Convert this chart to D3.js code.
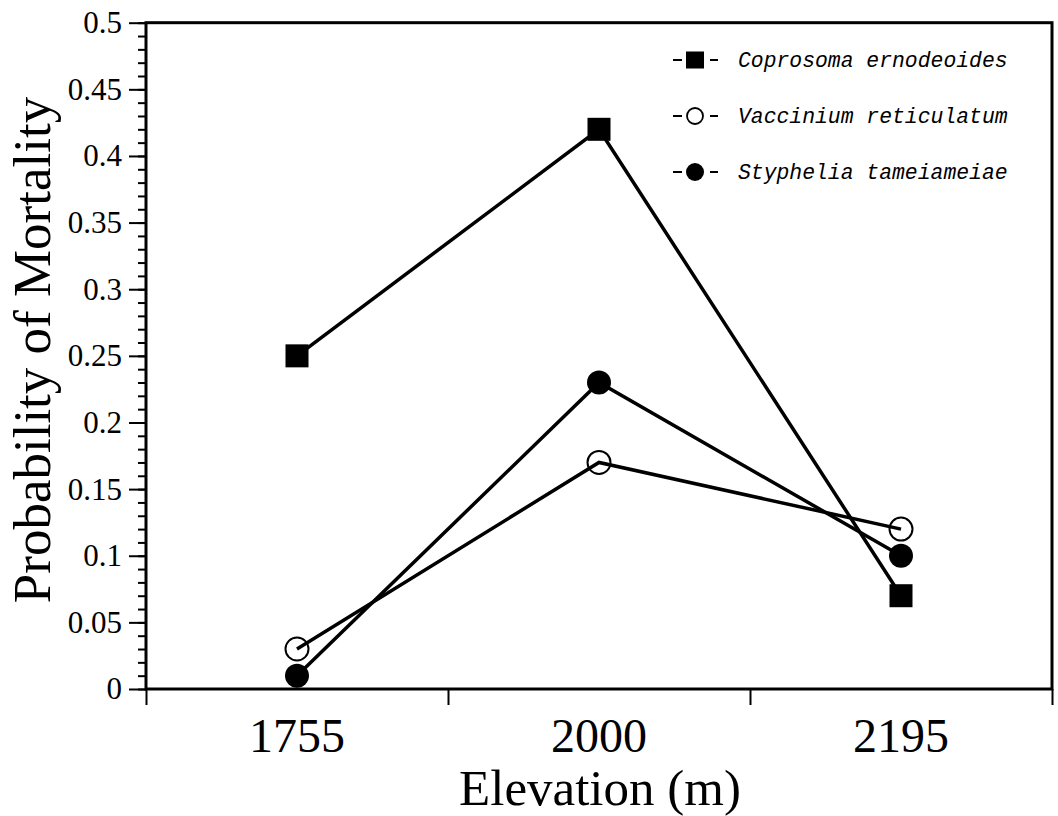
<!DOCTYPE html>
<html>
<head>
<meta charset="utf-8">
<script src="https://cdn.jsdelivr.net/npm/d3@7"></script>
<style>
  html, body { margin: 0; padding: 0; background: #fff; }
  svg { display: block; }
</style>
</head>
<body>
<div id="chart"></div>
<script>
// values
var elevations = ["1755", "2000", "2195"];
var coprosoma = [0.25, 0.42, 0.07];
var vaccinium = [0.03, 0.17, 0.12];
var styphelia = [0.01, 0.23, 0.10];
var yTickValues = [0, 0.05, 0.1, 0.15, 0.2, 0.25, 0.3, 0.35, 0.4, 0.45, 0.5];
var yTickLabels = ["0", "0.05", "0.1", "0.15", "0.2", "0.25", "0.3", "0.35", "0.4", "0.45", "0.5"];
var seriesNames = ["Coprosoma ernodeoides", "Vaccinium reticulatum", "Styphelia tameiameiae"];

// (window.top is reserved, so plot edges get their own names)
var W = 1058, H = 816,
    plotL = 146, plotR = 1052, plotT = 22.7, plotB = 689,
    SERIF = "'Liberation Serif', 'Times New Roman', serif",
    MONO = "'Liberation Mono', 'Courier New', monospace";

var svg = d3.select("#chart").append("svg")
    .attr("width", W)
    .attr("height", H);

var x = d3.scaleBand().domain(elevations).range([plotL, plotR]);
var xEdge = d3.scaleLinear().domain([0, elevations.length]).range([plotL, plotR]);
var y = d3.scaleLinear().domain([0, 0.5]).range([plotB, plotT]);
var cx = function(d, i){ return x(elevations[i]) + x.bandwidth() / 2; };

// frame
svg.append("rect")
    .attr("x", plotL).attr("y", plotT)
    .attr("width", plotR - plotL).attr("height", plotB - plotT)
    .attr("fill", "none").attr("stroke", "#000").attr("stroke-width", 3);

// y axis: minor ticks then major ticks with labels
var minor = d3.range(0, 51).map(function(d){ return d / 100; });
svg.append("g")
    .attr("transform", "translate(" + plotL + ",0)")
    .call(d3.axisLeft(y).tickValues(minor).tickSize(8).tickFormat(""))
    .call(function(g){ g.select(".domain").remove(); })
    .selectAll("line").attr("stroke-width", 2);

var yAxis = svg.append("g")
    .attr("transform", "translate(" + plotL + ",0)")
    .call(d3.axisLeft(y).tickValues(yTickValues).tickSize(17).tickPadding(7)
        .tickFormat(function(d, i){ return yTickLabels[i]; }));
yAxis.select(".domain").remove();
yAxis.selectAll("line").attr("stroke-width", 2);
yAxis.selectAll("text")
    .attr("font-family", SERIF).attr("font-size", 31).attr("fill", "#000");

// x axis: ticks at band edges, labels at band centres
var xTicks = svg.append("g")
    .attr("transform", "translate(0," + plotB + ")")
    .call(d3.axisBottom(xEdge).tickValues(d3.range(0, elevations.length + 1)).tickSize(16).tickFormat(""));
xTicks.select(".domain").remove();
xTicks.selectAll("line").attr("stroke-width", 2);

var xAxis = svg.append("g")
    .attr("transform", "translate(0," + plotB + ")")
    .call(d3.axisBottom(x).tickSize(0));
xAxis.select(".domain").remove();
xAxis.selectAll("text")
    .attr("y", 63).attr("dy", 0)
    .attr("font-family", SERIF).attr("font-size", 48).attr("fill", "#000");

// axis titles
svg.append("text")
    .attr("x", 600).attr("y", 805)
    .attr("text-anchor", "middle")
    .attr("font-family", SERIF).attr("font-size", 51)
    .text("Elevation (m)");

svg.append("text")
    .attr("transform", "translate(50,350) rotate(-90)")
    .attr("text-anchor", "middle")
    .attr("font-family", SERIF).attr("font-size", 53)
    .text("Probability of Mortality");

// lines
var line = d3.line().x(cx).y(function(d){ return y(d); });
[coprosoma, vaccinium, styphelia].forEach(function(s){
    svg.append("path")
        .datum(s)
        .attr("d", line)
        .attr("fill", "none").attr("stroke", "#000").attr("stroke-width", 3.5);
});

// markers
svg.append("g").selectAll("circle")
    .data(vaccinium)
    .enter().append("circle")
    .attr("cx", cx).attr("cy", function(d){ return y(d); })
    .attr("r", 11.5)
    .attr("fill", "none").attr("stroke", "#000").attr("stroke-width", 2);

svg.append("g").selectAll("circle")
    .data(styphelia)
    .enter().append("circle")
    .attr("cx", cx).attr("cy", function(d){ return y(d); })
    .attr("r", 12)
    .attr("fill", "#000");

svg.append("g").selectAll("rect")
    .data(coprosoma)
    .enter().append("rect")
    .attr("x", function(d, i){ return cx(d, i) - 11.5; })
    .attr("y", function(d){ return y(d) - 11.5; })
    .attr("width", 23).attr("height", 23)
    .attr("fill", "#000");

// legend
var legend = svg.append("g").attr("transform", "translate(695,60)");
var rows = legend.selectAll("g")
    .data(seriesNames)
    .enter().append("g")
    .attr("transform", function(d, i){ return "translate(0," + (i * 56) + ")"; });

rows.append("line").attr("x1", -22).attr("x2", -13).attr("stroke", "#000").attr("stroke-width", 2);
rows.append("line").attr("x1", 15).attr("x2", 23).attr("stroke", "#000").attr("stroke-width", 2);

rows.filter(function(d, i){ return i === 0; }).append("rect")
    .attr("x", -9).attr("y", -8.5).attr("width", 18).attr("height", 17).attr("fill", "#000");
rows.filter(function(d, i){ return i === 1; }).append("circle")
    .attr("r", 8).attr("fill", "none").attr("stroke", "#000").attr("stroke-width", 1.8);
rows.filter(function(d, i){ return i === 2; }).append("circle")
    .attr("r", 9).attr("fill", "#000");

rows.append("text")
    .attr("x", 43).attr("y", 7)
    .attr("font-family", MONO).attr("font-style", "italic").attr("font-size", 21.4)
    .text(function(d){ return d; });
</script>
</body>
</html>
